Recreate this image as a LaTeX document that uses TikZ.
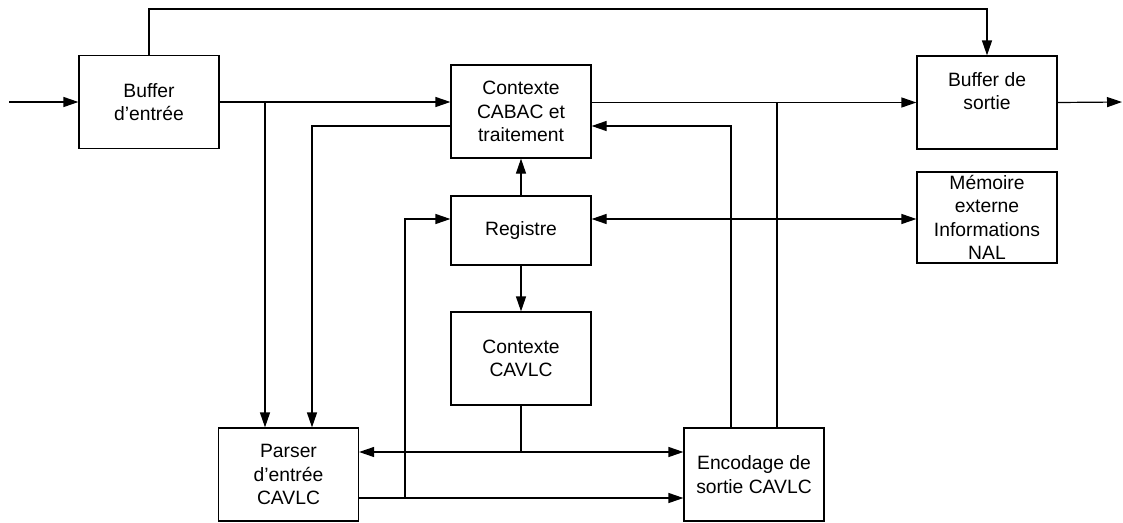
\documentclass[tikz,border=0pt]{standalone}
\usepackage{fontspec}
\setmainfont{Liberation Sans}
\usetikzlibrary{arrows.meta,positioning,calc}

\begin{document}
\begin{tikzpicture}[x=1pt, y=-1pt, line width=1.2pt,
  every node/.style={font=\fontsize{19.3}{23.3}\selectfont},
  blk/.style={draw, fill=white, minimum width=140pt, minimum height=93pt, inner sep=0pt, align=center},
  arr/.style={-{Triangle[length=15pt,width=10pt]}},
  arrs/.style={{Triangle[length=15pt,width=10pt]}-{Triangle[length=15pt,width=10pt]}}]
\useasboundingbox (0,0) rectangle (1123,522);
% blocs
\node[blk] (bin)    at (149,102)   {Buffer\\d'entrée};
\node[blk] (cabac)  at (521,111.5) {Contexte\\CABAC et\\traitement};
\node[blk] (bout)   at (987,102.5) {Buffer de\\sortie\\\mbox{}};
\node[blk, minimum height=91pt] (mem) at (987,217.5) {Mémoire\\externe\\Informations\\NAL};
\node[blk, minimum height=69pt] (reg) at (521,230.5) {Registre};
\node[blk] (cavlc)  at (521,358.5) {Contexte\\CAVLC};
\node[blk] (parser) at (288.5,474.5) {Parser\\d'entrée\\CAVLC};
\node[blk] (enc)    at (754,474.5) {Encodage de\\sortie CAVLC};
% points de passage
\coordinate (src) at (9,102);
\coordinate (dst) at (1122,102);
\coordinate (top) at (0,9);
\coordinate (j1) at (265,102);
\coordinate (c2) at (312,126);
\coordinate (r2) at (0,219);
\coordinate (j3) at (405,498);
\coordinate (j4) at (521,452);
\coordinate (e1) at (731,126);
\coordinate (e2) at (777,102);
% liaisons
\draw[arr] (src) -- (bin.west);
\draw[arr] (bin.east) -- (bin.east -| cabac.west);
\draw[arr] (j1) -- (j1 |- parser.north);
\draw[arr] (c2 -| cabac.west) -- (c2) -- (c2 |- parser.north);
\draw[arr] (bin.north) -- (bin.north |- top) -- (bout.north |- top) -- (bout.north);
\draw[arr] (bout.west -| cabac.east) -- (bout.west);
\draw[arr] (bout.east) -- (dst);
\draw[arr] (reg.north) -- (cabac.south);
\draw[arr] (reg.south) -- (cavlc.north);
\draw[arrs] (reg.east |- r2) -- (mem.west |- r2);
\draw[arr] (parser.east |- j3) -- (enc.west |- j3);
\draw[arr] (j3) -- (j3 |- r2) -- (reg.west |- r2);
\draw (cavlc.south) -- (j4);
\draw[arr] (j4) -- (j4 -| parser.east);
\draw[arr] (j4) -- (j4 -| enc.west);
\draw[arr] (e1 |- enc.north) -- (e1) -- (e1 -| cabac.east);
\draw (e2 |- enc.north) -- (e2);
\end{tikzpicture}
\end{document}
